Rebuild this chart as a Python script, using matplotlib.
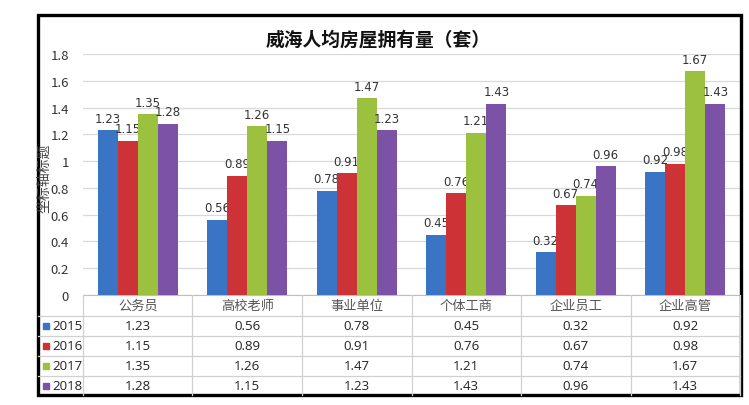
import matplotlib
matplotlib.use("Agg")
import matplotlib.pyplot as plt
from matplotlib.lines import Line2D
from matplotlib.patches import Rectangle
import numpy as np

plt.rcParams['font.family'] = ['Noto Sans CJK SC', 'DejaVu Sans']

title = "威海人均房屋拥有量（套）"
categories = ["公务员", "高校老师", "事业单位", "个体工商", "企业员工", "企业高管"]
years = ["2015", "2016", "2017", "2018"]
v2015 = [1.23, 0.56, 0.78, 0.45, 0.32, 0.92]
v2016 = [1.15, 0.89, 0.91, 0.76, 0.67, 0.98]
v2017 = [1.35, 1.26, 1.47, 1.21, 0.74, 1.67]
v2018 = [1.28, 1.15, 1.23, 1.43, 0.96, 1.43]
series = [v2015, v2016, v2017, v2018]
colors = ["#3A74C4", "#CC3236", "#9CC13F", "#7C52A6"]
y_ticks = [0, 0.2, 0.4, 0.6, 0.8, 1.0, 1.2, 1.4, 1.6, 1.8]
y_tick_labels = ["0", "0.2", "0.4", "0.6", "0.8", "1", "1.2", "1.4", "1.6", "1.8"]
y_label = "坐标轴标题"

FW, FH = 749, 406
fig = plt.figure(figsize=(FW / 100, FH / 100), dpi=100)
fig.patch.set_facecolor("white")

def fx(px):
    return px / FW

def fy(py):
    return 1 - py / FH

ax_left, ax_right, ax_top, ax_bottom = 83, 740, 55, 296
ax = fig.add_axes([fx(ax_left), fy(ax_bottom), (ax_right - ax_left) / FW, (ax_bottom - ax_top) / FH])

x = np.arange(len(categories))
bw = 0.183
for i, (vals, c) in enumerate(zip(series, colors)):
    pos = x + (i - 1.5) * bw
    ax.bar(pos, vals, width=bw, color=c, zorder=3)
    for p, v in zip(pos, vals):
        ax.annotate(f"{v:.2f}", (p, v), xytext=(0, 4), textcoords="offset points",
                    ha="center", va="bottom", fontsize=8.5, color="#333333",
                    family=["Liberation Sans Narrow", "DejaVu Sans"])

ax.set_xlim(-0.5, len(categories) - 0.5)
ax.set_ylim(0, 1.8)
ax.set_yticks(y_ticks)
ax.set_yticklabels(y_tick_labels, fontsize=9.5, color="#333333")
ax.tick_params(axis="y", length=0, pad=10)
ax.set_xticks([])
ax.grid(axis="y", color="#D9D9D9", lw=0.9, zorder=0)
for s in ["top", "right", "left"]:
    ax.spines[s].set_visible(False)
ax.spines["bottom"].set_color("#BFBFBF")

fig.text(fx(378), fy(40), title, ha="center", va="center", fontsize=13.5, fontweight="bold", color="#111111")
fig.text(fx(44), fy(178), y_label, ha="center", va="center", rotation=90, fontsize=10, color="#444444")

# data table
row_edges = [296, 317, 337, 357, 377, 396]
grid_c = "#D0D0D0"
for yy in row_edges[1:-1]:
    fig.add_artist(Line2D([fx(38), fx(ax_right)], [fy(yy), fy(yy)], color=grid_c, lw=0.9))
colw = (ax_right - ax_left) / len(categories)
for k in range(len(categories) + 1):
    xx = ax_left + k * colw
    fig.add_artist(Line2D([fx(xx), fx(xx)], [fy(296), fy(396)], color=grid_c, lw=0.9))

for k, cat in enumerate(categories):
    cx = ax_left + (k + 0.5) * colw
    fig.text(fx(cx), fy(306.5), cat, ha="center", va="center", fontsize=9.5, color="#555555")
    for r, vals in enumerate(series):
        cy = (row_edges[r + 1] + row_edges[r + 2]) / 2
        fig.text(fx(cx), fy(cy), f"{vals[k]:.2f}", ha="center", va="center", fontsize=9.5, color="#222222",
                 family=["Open Sans", "DejaVu Sans"])

for r, (yr, c) in enumerate(zip(years, colors)):
    cy = (row_edges[r + 1] + row_edges[r + 2]) / 2
    fig.add_artist(Rectangle((fx(43), fy(cy + 3)), 6 / FW, 6 / FH, color=c))
    fig.text(fx(52), fy(cy), yr, ha="left", va="center", fontsize=9.5, color="#222222",
             family=["Open Sans", "DejaVu Sans"])

# outer frame
fig.add_artist(Rectangle((fx(38), fy(396)), (741 - 38) / FW, (396 - 16) / FH, fill=False, ec="black", lw=2.4))

fig.savefig("out.png", dpi=100)
